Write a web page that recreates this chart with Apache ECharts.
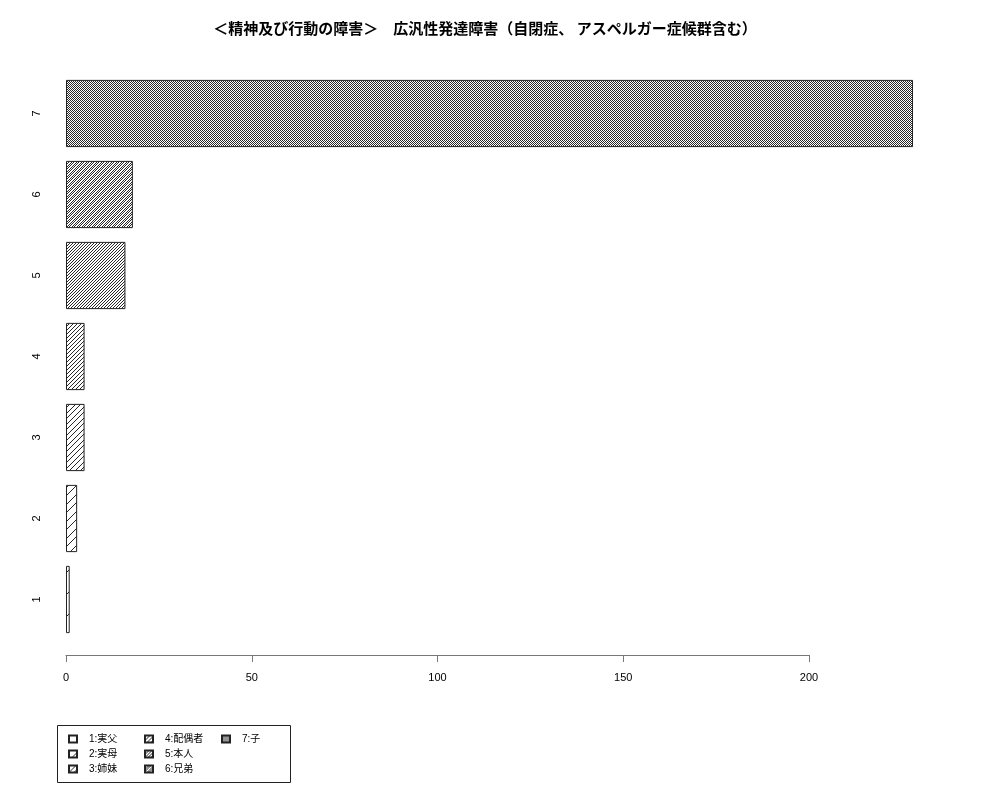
<!DOCTYPE html>
<html>
<head>
<meta charset="utf-8">
<script src="https://cdn.jsdelivr.net/npm/echarts@6/dist/echarts.min.js"></script>
<style>
html,body{margin:0;padding:0;background:#fff;}
#main{width:1000px;height:800px;}
</style>
</head>
<body>
<div id="main"></div>
<script>
// ---- data ----
const categories = ['1', '2', '3', '4', '5', '6', '7'];
const values = [1, 3, 5, 5, 16, 18, 228];
const legendNames = ['1:実父', '2:実母', '3:姉妹', '4:配偶者', '5:本人', '6:兄弟', '7:子'];
const xTicks = [0, 50, 100, 150, 200];
const titleText = '＜精神及び行動の障害＞　広汎性発達障害（自閉症、 アスペルガー症候群含む）';

// ---- styles ----
const hatchSpacing = [22, 8.5, 5.5, 4, 3, 2.5, 2];
const FONT = '"Liberation Sans", "Noto Sans CJK JP", sans-serif';

function makeHatch(s) {
  let best = 1, bestErr = 1e9;
  for (let n = 1; n <= 10; n++) {
    const t = s * n;
    const err = Math.abs(t - Math.round(t)) / n;
    if (err < bestErr - 1e-6) { bestErr = err; best = n; }
  }
  const tile = Math.max(2, Math.round(s * best));
  const step = tile / best;
  const cv = document.createElement('canvas');
  cv.width = tile; cv.height = tile;
  const ctx = cv.getContext('2d');
  const img = ctx.createImageData(tile, tile);
  for (let y = 0; y < tile; y++) {
    for (let x = 0; x < tile; x++) {
      const p = (x + y) % tile;
      const r = p - Math.floor(p / step) * step;
      const dark = r < 1;
      const v = dark ? 40 : 255;
      const o = (y * tile + x) * 4;
      img.data[o] = v; img.data[o + 1] = v; img.data[o + 2] = v; img.data[o + 3] = 255;
    }
  }
  ctx.putImageData(img, 0, 0);
  return { image: cv, repeat: 'repeat' };
}

const xMax = Math.max(...values);
const pxPerUnit = 743 / 200;
const plotLeft = 66;

const series = legendNames.map((name, i) => ({
  name: name,
  type: 'bar',
  stack: 'all',
  xAxisIndex: 0,
  yAxisIndex: 0,
  barCategoryGap: '17%',
  itemStyle: { color: makeHatch(hatchSpacing[i]), borderColor: '#222', borderWidth: 1 },
  emphasis: { disabled: true },
  data: values.map((v, j) => (j === i ? v : null))
}));

const legendCols = [[0, 1, 2], [3, 4, 5], [6]];
const legendLefts = [68, 144, 221];
const legends = legendCols.map((idx, k) => ({
  orient: 'vertical',
  left: legendLefts[k],
  top: 733,
  icon: 'rect',
  itemWidth: 8,
  itemHeight: 7,
  itemGap: 3,
  padding: 0,
  selectedMode: false,
  data: idx.map(i => legendNames[i]),
  textStyle: { fontFamily: FONT, fontSize: 10, lineHeight: 12, color: '#000', padding: [0, 0, 0, 7] }
}));

const chart = echarts.init(document.getElementById('main'), null, { renderer: 'canvas' });
chart.setOption({
  animation: false,
  backgroundColor: '#fff',
  title: {
    text: titleText,
    left: 480,
    top: 16,
    textAlign: 'center',
    textStyle: { fontFamily: '"Noto Sans CJK JP", sans-serif', fontSize: 15, fontWeight: 'bold', color: '#000' }
  },
  legend: legends,
  graphic: [{
    type: 'rect',
    shape: { x: 57.5, y: 725.5, width: 233, height: 57 },
    style: { fill: 'none', stroke: '#222', lineWidth: 1 },
    silent: true
  }],
  grid: [
    { left: plotLeft, top: 73, height: 567, width: pxPerUnit * xMax },
    { left: plotLeft, top: 655, height: 0, width: pxPerUnit * 200 }
  ],
  xAxis: [
    { gridIndex: 0, type: 'value', min: 0, max: xMax, show: false },
    {
      gridIndex: 1, type: 'value', min: xTicks[0], max: xTicks[xTicks.length - 1], interval: 50,
      position: 'bottom',
      axisLine: { show: true, lineStyle: { color: '#777', width: 1 } },
      axisTick: { show: true, length: 7, lineStyle: { color: '#777' } },
      splitLine: { show: false },
      axisLabel: { margin: 17, fontFamily: FONT, fontSize: 11, color: '#000' }
    }
  ],
  yAxis: [
    {
      gridIndex: 0, type: 'category', data: categories,
      axisLine: { show: false }, axisTick: { show: false }, splitLine: { show: false },
      axisLabel: { rotate: 90, margin: 24, fontFamily: FONT, fontSize: 11, color: '#000' }
    },
    { gridIndex: 1, type: 'value', show: false }
  ],
  series: series
});
</script>
</body>
</html>
